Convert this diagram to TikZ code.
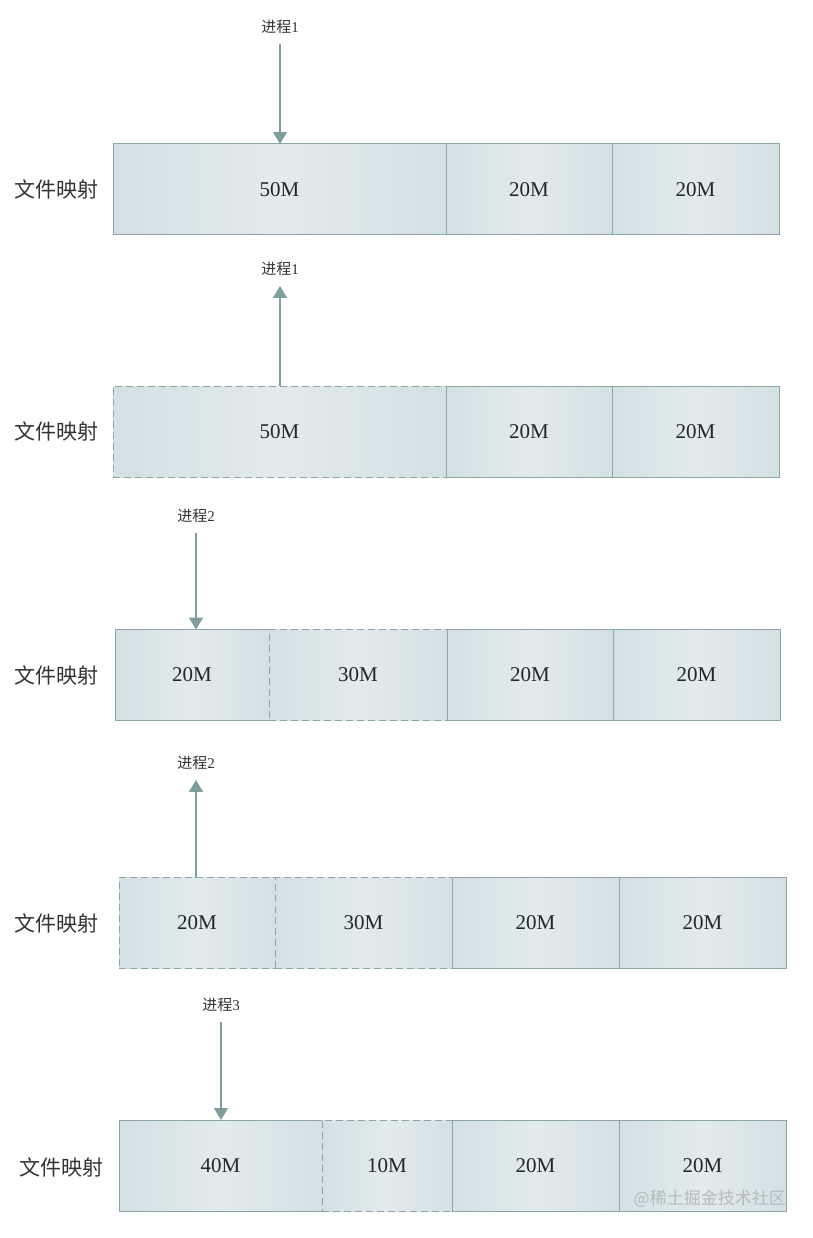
\documentclass[tikz,border=0pt]{standalone}
\usepackage{fontspec}
\setmainfont{Liberation Serif}
\newfontfamily\cjk{Noto Sans CJK SC}
\usepackage{tikz}
\usetikzlibrary{positioning,arrows.meta}

\definecolor{cellEdge}{RGB}{211,224,228}
\definecolor{cellMid}{RGB}{226,235,237}
\definecolor{cellLine}{RGB}{140,166,166}
\definecolor{linkLine}{RGB}{125,158,154}
\definecolor{markGray}{RGB}{178,188,188}

\tikzset{
  cell/.style={draw=cellLine, line width=1pt, minimum height=91pt, inner sep=0pt, outer sep=0pt,
    left color=cellEdge, right color=cellEdge, middle color=cellMid, text=black!85,
    font=\fontsize{21}{25}\selectfont},
  freecell/.style={cell, dash pattern=on 7pt off 4pt},
  rowlabel/.style={font=\cjk\fontsize{21}{25}\selectfont, text=black!80},
  proclabel/.style={font=\fontsize{15}{18}\selectfont, text=black!80, inner sep=0pt},
  link/.style={draw=linkLine, line width=1.2pt, -{Triangle[length=12pt, width=14pt]}},
}

\begin{document}
\begin{tikzpicture}[x=1pt, y=-1pt]
\useasboundingbox (0,0) rectangle (812,1238);

% === ROW 1: process 1 maps the 50M block ===
\node[rowlabel] (r1) at (56,189.5) {文件映射};
\node[cell, minimum width=333pt, anchor=west] (c11) at (113,189.5) {50M};
\node[cell, minimum width=166pt, right=0pt of c11] (c12) {20M};
\node[cell, minimum width=167pt, right=0pt of c12] (c13) {20M};
\node[proclabel] (p1) at (280,27) {{\cjk 进程}1};
\draw[link, shorten <=10pt] (p1.south) -- (p1 |- c11.north);

% === ROW 2: process 1 releases it ===
\node[rowlabel] (r2) at (56,431.5) {文件映射};
\node[freecell, minimum width=333pt, anchor=west] (c21) at (113,431.5) {50M};
\node[cell, minimum width=166pt, right=0pt of c21] (c22) {20M};
\node[cell, minimum width=167pt, right=0pt of c22] (c23) {20M};
\node[proclabel] (p2) at (280,269) {{\cjk 进程}1};
\draw[link, shorten >=10pt] (p2 |- c21.north) -- (p2.south);

% === ROW 3: process 2 takes 20M, 30M left free ===
\node[rowlabel] (r3) at (56,675) {文件映射};
\node[cell, minimum width=154pt, anchor=west] (c31) at (115,675) {20M};
\node[freecell, minimum width=178pt, right=0pt of c31] (c32) {30M};
\node[cell, minimum width=166pt, right=0pt of c32] (c33) {20M};
\node[cell, minimum width=167pt, right=0pt of c33] (c34) {20M};
\node[proclabel] (p3) at (196,516) {{\cjk 进程}2};
\draw[link, shorten <=10pt] (p3.south) -- (p3 |- c31.north);

% === ROW 4: process 2 releases ===
\node[rowlabel] (r4) at (56,923) {文件映射};
\node[freecell, minimum width=156pt, anchor=west] (c41) at (119,923) {20M};
\node[freecell, minimum width=177pt, right=0pt of c41] (c42) {30M};
\node[cell, minimum width=167pt, right=0pt of c42] (c43) {20M};
\node[cell, minimum width=167pt, right=0pt of c43] (c44) {20M};
\node[proclabel] (p4) at (196,763) {{\cjk 进程}2};
\draw[link, shorten >=10pt] (p4 |- c41.north) -- (p4.south);

% === ROW 5: process 3 takes 40M, 10M left free ===
\node[rowlabel] (r5) at (61,1167) {文件映射};
\node[cell, minimum width=203pt, anchor=west] (c51) at (119,1165.5) {40M};
\node[freecell, minimum width=130pt, right=0pt of c51] (c52) {10M};
\node[cell, minimum width=167pt, right=0pt of c52] (c53) {20M};
\node[cell, minimum width=167pt, right=0pt of c53] (c54) {20M};
\node[proclabel] (p5) at (221,1005) {{\cjk 进程}3};
\draw[link, shorten <=10pt] (p5.south) -- (p5 |- c51.north);

% watermark
\node[font=\cjk\fontsize{17}{20}\selectfont, text=markGray, anchor=east, inner sep=0pt] (mark) at (786,1199) {@稀土掘金技术社区};

\end{tikzpicture}
\end{document}
